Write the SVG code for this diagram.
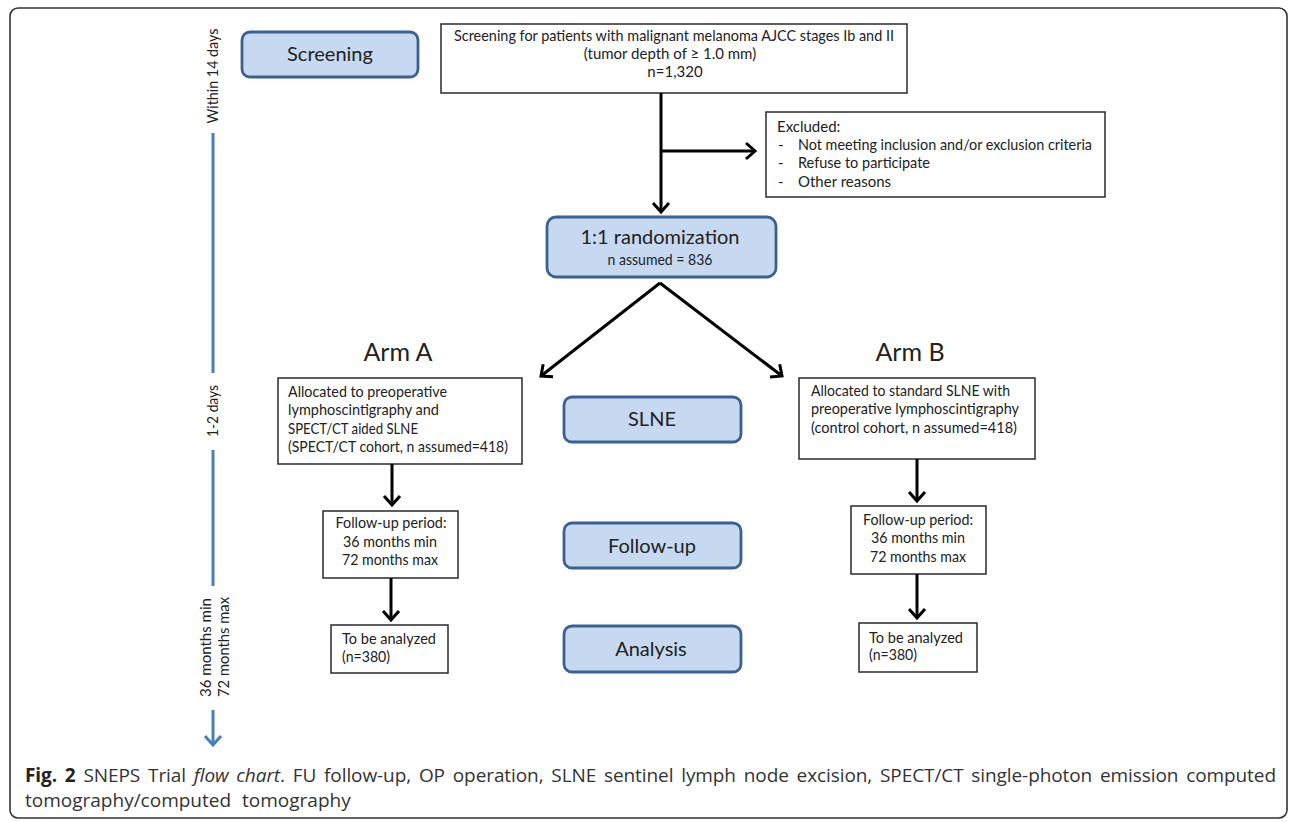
<svg xmlns="http://www.w3.org/2000/svg" width="1290" height="822" viewBox="0 0 1290 822">
<style>
.frame{fill:#fff;stroke:#333;stroke-width:1.6}
.phase{fill:#c6d9f1;stroke:#3b6191;stroke-width:2.8}
.box{fill:#fff;stroke:#2a2a2a;stroke-width:1.5}
.t{font-family:Lato,"Liberation Sans",sans-serif;fill:#222}
.s{font-size:15px}
.big{font-size:20px}
.arm{font-size:25px}
.c{text-anchor:middle}
.conn{stroke:#000;stroke-width:3;fill:none}
.tl{stroke:#4a7ebb;stroke-width:3;fill:none}
.cap{font-family:"Open Sans","Liberation Sans",sans-serif;font-size:19px;fill:#333}
</style>
<defs>
<marker id="ah" markerUnits="userSpaceOnUse" markerWidth="30" markerHeight="30" viewBox="-15 -15 30 30" refX="0" refY="0" orient="auto" overflow="visible">
<path d="M-9,-8 L0,0 L-9,8" fill="none" stroke="#000" stroke-width="3"/>
</marker>
<marker id="ahb" markerUnits="userSpaceOnUse" markerWidth="30" markerHeight="30" viewBox="-15 -15 30 30" refX="0" refY="0" orient="auto" overflow="visible">
<path d="M-9,-8 L0,0 L-9,8" fill="none" stroke="#4a7ebb" stroke-width="3"/>
</marker>
</defs>
<rect class="frame" x="10" y="8" width="1277" height="810" rx="8"/>

<g id="timeline">
<text class="t s c" transform="translate(218,76) rotate(-90)" textLength="95" lengthAdjust="spacingAndGlyphs">Within 14 days</text>
<line class="tl" x1="213" y1="133" x2="213" y2="373"/>
<text class="t s c" transform="translate(218,411) rotate(-90)" textLength="52" lengthAdjust="spacingAndGlyphs">1-2 days</text>
<line class="tl" x1="213" y1="450" x2="213" y2="586"/>
<text class="t s" transform="translate(211,697) rotate(-90)" textLength="99" lengthAdjust="spacingAndGlyphs">36 months  min</text>
<text class="t s" transform="translate(229,697) rotate(-90)" textLength="100" lengthAdjust="spacingAndGlyphs">72 months  max</text>
<line class="tl" x1="213" y1="710" x2="213" y2="745" marker-end="url(#ahb)"/>
</g>

<g id="screening">
<rect class="phase" x="242" y="32" width="176" height="45" rx="8"/>
<text class="t big c" x="330" y="61">Screening</text>
</g>

<g id="screening-desc">
<rect class="box" x="441" y="24" width="466" height="69"/>
<text class="t s c" x="674" y="41" textLength="440" lengthAdjust="spacingAndGlyphs">Screening for patients with malignant melanoma  AJCC stages Ib and II</text>
<text class="t s c" x="670" y="59">(tumor depth of ≥ 1.0 mm)</text>
<text class="t s c" x="675" y="77">n=1,320</text>
</g>

<g id="excluded">
<rect class="box" x="766" y="112" width="339" height="85"/>
<text class="t s" x="777" y="132">Excluded:</text>
<text class="t s" x="778" y="150">-</text>
<text class="t s" x="798" y="150" textLength="294" lengthAdjust="spacingAndGlyphs">Not meeting  inclusion and/or exclusion criteria</text>
<text class="t s" x="778" y="168">-</text>
<text class="t s" x="798" y="168" textLength="132" lengthAdjust="spacingAndGlyphs">Refuse to participate</text>
<text class="t s" x="778" y="187">-</text>
<text class="t s" x="798" y="187">Other reasons</text>
</g>

<g id="randomization">
<rect class="phase" x="547" y="217" width="229" height="60" rx="9"/>
<text class="t big c" x="660" y="244" textLength="159" lengthAdjust="spacingAndGlyphs">1:1 randomization</text>
<text class="t s c" x="660" y="265" textLength="105" lengthAdjust="spacingAndGlyphs">n assumed = 836</text>
</g>

<g id="arm-a-label"><text class="t arm c" x="398" y="361">Arm A</text></g>
<g id="arm-b-label"><text class="t arm c" x="910" y="361">Arm B</text></g>

<g id="arm-a">
<rect class="box" x="278" y="378" width="244" height="86"/>
<text class="t s" x="288" y="397" textLength="159" lengthAdjust="spacingAndGlyphs">Allocated to preoperative</text>
<text class="t s" x="288" y="415" textLength="151" lengthAdjust="spacingAndGlyphs">lymphoscintigraphy and</text>
<text class="t s" x="288" y="434" textLength="130" lengthAdjust="spacingAndGlyphs">SPECT/CT  aided SLNE</text>
<text class="t s" x="288" y="452" textLength="220" lengthAdjust="spacingAndGlyphs">(SPECT/CT  cohort, n assumed=418)</text>
</g>

<g id="arm-b">
<rect class="box" x="799" y="378" width="236" height="81"/>
<text class="t s" x="811" y="396" textLength="199" lengthAdjust="spacingAndGlyphs">Allocated to standard SLNE with</text>
<text class="t s" x="811" y="414" textLength="208" lengthAdjust="spacingAndGlyphs">preoperative lymphoscintigraphy</text>
<text class="t s" x="811" y="433" textLength="206" lengthAdjust="spacingAndGlyphs">(control cohort, n assumed=418)</text>
</g>

<g id="slne">
<rect class="phase" x="564" y="397" width="177" height="45" rx="8"/>
<text class="t big c" x="652" y="426">SLNE</text>
</g>

<g id="followup-a">
<rect class="box" x="323" y="511" width="135" height="67"/>
<text class="t s c" x="391" y="528" textLength="111" lengthAdjust="spacingAndGlyphs">Follow-up period:</text>
<text class="t s c" x="390" y="547" textLength="94" lengthAdjust="spacingAndGlyphs">36 months min</text>
<text class="t s c" x="390" y="565" textLength="96" lengthAdjust="spacingAndGlyphs">72 months max</text>
</g>

<g id="followup">
<rect class="phase" x="564" y="523" width="177" height="45" rx="8"/>
<text class="t big c" x="652" y="553">Follow-up</text>
</g>

<g id="followup-b">
<rect class="box" x="851" y="506" width="135" height="68"/>
<text class="t s c" x="918" y="525" textLength="110" lengthAdjust="spacingAndGlyphs">Follow-up period:</text>
<text class="t s c" x="918" y="543" textLength="94" lengthAdjust="spacingAndGlyphs">36 months min</text>
<text class="t s c" x="918" y="562" textLength="96" lengthAdjust="spacingAndGlyphs">72 months max</text>
</g>

<g id="analyze-a">
<rect class="box" x="331" y="625" width="117" height="48"/>
<text class="t s" x="342" y="644" textLength="94" lengthAdjust="spacingAndGlyphs">To be analyzed</text>
<text class="t s" x="342" y="662" textLength="48" lengthAdjust="spacingAndGlyphs">(n=380)</text>
</g>

<g id="analysis">
<rect class="phase" x="564" y="626" width="177" height="46" rx="8"/>
<text class="t big c" x="651" y="656">Analysis</text>
</g>

<g id="analyze-b">
<rect class="box" x="859" y="623" width="118" height="49"/>
<text class="t s" x="869" y="643" textLength="94" lengthAdjust="spacingAndGlyphs">To be analyzed</text>
<text class="t s" x="869" y="660" textLength="48" lengthAdjust="spacingAndGlyphs">(n=380)</text>
</g>

<g id="connectors">
<line class="conn" x1="661" y1="93" x2="661" y2="212" marker-end="url(#ah)"/>
<line class="conn" x1="661" y1="151" x2="755" y2="151" marker-end="url(#ah)"/>
<line class="conn" x1="660" y1="283" x2="541" y2="376" marker-end="url(#ah)"/>
<line class="conn" x1="660" y1="283" x2="782" y2="376" marker-end="url(#ah)"/>
<line class="conn" x1="392" y1="464" x2="392" y2="505" marker-end="url(#ah)"/>
<line class="conn" x1="391" y1="578" x2="391" y2="620" marker-end="url(#ah)"/>
<line class="conn" x1="917" y1="459" x2="917" y2="501" marker-end="url(#ah)"/>
<line class="conn" x1="917" y1="574" x2="917" y2="618" marker-end="url(#ah)"/>
</g>

<g id="caption">
<text class="cap" x="25" y="782" textLength="1251" lengthAdjust="spacing" word-spacing="3"><tspan font-weight="bold" fill="#222">Fig. 2</tspan> SNEPS Trial <tspan font-style="italic">flow chart</tspan>. FU follow-up, OP operation, SLNE sentinel lymph node excision, SPECT/CT single-photon emission computed</text>
<text class="cap" x="25" y="807" word-spacing="6">tomography/computed tomography</text>
</g>
</svg>
